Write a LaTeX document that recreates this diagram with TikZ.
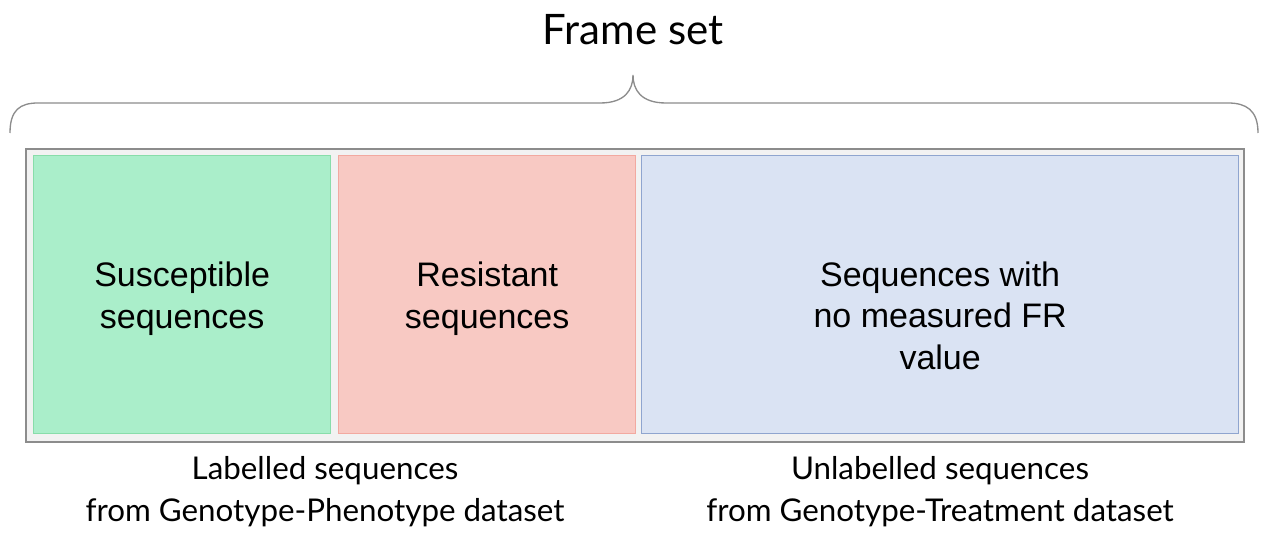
\documentclass[tikz,border=0pt]{standalone}
\usepackage{fontspec}
\setmainfont{Lato}
\newfontfamily\arialfont{Liberation Sans}
\definecolor{framegrey}{HTML}{F2F2F2}
\definecolor{frameline}{HTML}{8C8C8C}
\definecolor{suscfill}{HTML}{AAEECA}
\definecolor{suscline}{HTML}{88DDAA}
\definecolor{resfill}{HTML}{F8C9C3}
\definecolor{resline}{HTML}{F2A9A0}
\definecolor{unlfill}{HTML}{DAE3F3}
\definecolor{unlline}{HTML}{8FA5CF}
\tikzset{
	part/.style={draw, line width=1pt, anchor=north west},
	parttext/.style={align=center, font=\arialfont\fontsize{25.5}{31}\selectfont},
	caption/.style={align=center, font=\fontsize{23.5}{31.5}\selectfont}
}
\begin{document}
\begin{tikzpicture}[x=0.75pt, y=-0.75pt]
	\useasboundingbox (0,0) rectangle (1263,538);
	\node[draw=frameline, fill=framegrey, line width=1.5pt, minimum width=1218*0.75pt, minimum height=293*0.75pt, anchor=north west] (frame) at (25,148) {};%outer frame
	\node[part, fill=suscfill, draw=suscline, minimum width=297*0.75pt, minimum height=278*0.75pt] (susc) at (33,155) {};
	\node[part, fill=resfill, draw=resline, minimum width=297*0.75pt, minimum height=278*0.75pt] (res) at (338,155) {};
	\node[part, fill=unlfill, draw=unlline, minimum width=597*0.75pt, minimum height=278*0.75pt] (unl) at (641,155) {};

	\node[parttext] (susctext) at ([yshift=-0.75pt*4]susc.center) {Susceptible\\sequences};
	\node[parttext] (restext) at ([yshift=-0.75pt*4]res.center) {Resistant\\sequences};
	\node[parttext] (unltext) at ([yshift=-0.75pt*21]unl.center) {Sequences with\\no measured FR\\value};

	\node[caption] (lab) at (325,492) {Labelled sequences\\from Genotype-Phenotype dataset};
	\node[caption] (unlab) at (940,492) {Unlabelled sequences\\from Genotype-Treatment dataset};

	\node[font=\fontsize{31.5}{36}\selectfont] (title) at (633,30) {Frame set};

	%brace
	\coordinate (bl) at (10,133);
	\coordinate (br) at (1258,133);
	\coordinate (tip) at (633,75);
	\draw[frameline, line width=1pt] (bl) .. controls (10,110) and (20,103) .. (38,103) -- (600,103)
		.. controls (625,103) and (633,90) .. (tip) .. controls (633,90) and (641,103) .. (666,103)
		-- (1228,103) .. controls (1246,103) and (1258,110) .. (br);
\end{tikzpicture}
\end{document}
